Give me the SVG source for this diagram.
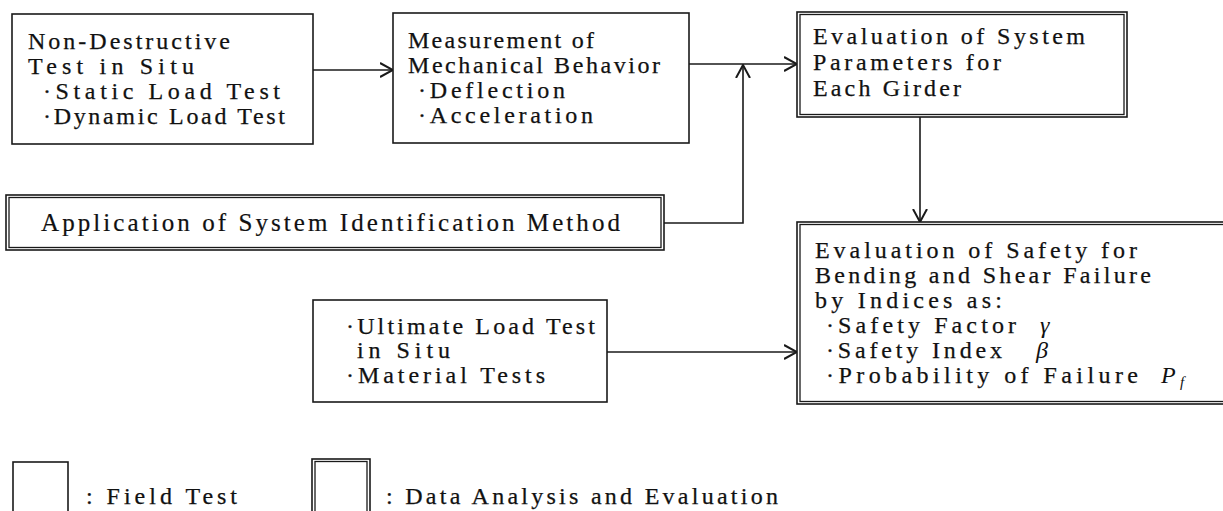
<svg xmlns="http://www.w3.org/2000/svg" width="1223" height="511" viewBox="0 0 1223 511">
<style>
.bx{fill:#fff;stroke:#1a1a1a;stroke-width:1.6}
.in{fill:none;stroke:#1a1a1a;stroke-width:1.3}
.t{font-family:"Liberation Serif",serif;font-size:24px;fill:#111;stroke:#111;stroke-width:0.25}
.c{font-family:"Liberation Serif",serif;font-size:25px;fill:#111;stroke:#111;stroke-width:0.2}
.g{font-family:"Liberation Serif",serif;font-size:24px;font-style:italic;fill:#111}
.s{font-family:"Liberation Serif",serif;font-size:15px;font-style:italic;fill:#111}
.con{fill:none;stroke:#1a1a1a;stroke-width:1.6}
</style>
<defs>
<marker id="ah" viewBox="0 0 14 16" refX="13" refY="8" markerWidth="14" markerHeight="16" markerUnits="userSpaceOnUse" orient="auto">
<path d="M0,1 L13,8 L0,15" fill="none" stroke="#1a1a1a" stroke-width="2"/>
</marker>
</defs>
<rect width="1223" height="511" fill="#fff"/>

<g id="connectors">
<line class="con" x1="313" y1="70" x2="393" y2="70" marker-end="url(#ah)"/>
<line class="con" x1="689" y1="64" x2="797" y2="64" marker-end="url(#ah)"/>
<polyline class="con" points="664,223 743,223 743,65" marker-end="url(#ah)"/>
<line class="con" x1="920" y1="117" x2="920" y2="222" marker-end="url(#ah)"/>
<line class="con" x1="607" y1="352" x2="797" y2="352" marker-end="url(#ah)"/>
</g>

<g id="node-nondestructive">
<rect class="bx" x="12" y="14" width="301" height="130"/>
<text class="t" x="28" y="49" textLength="202" lengthAdjust="spacing">Non-Destructive</text>
<text class="t" x="28" y="74" textLength="166" lengthAdjust="spacing">Test in Situ</text>
<text class="t" x="43" y="99" textLength="237" lengthAdjust="spacing">·Static Load Test</text>
<text class="t" x="43" y="124" textLength="242" lengthAdjust="spacing">·Dynamic Load Test</text>
</g>

<g id="node-measurement">
<rect class="bx" x="393" y="13" width="296" height="130"/>
<text class="t" x="408" y="48" textLength="186" lengthAdjust="spacing">Measurement of</text>
<text class="t" x="408" y="73" textLength="252" lengthAdjust="spacing">Mechanical Behavior</text>
<text class="t" x="418" y="98" textLength="147" lengthAdjust="spacing">·Deflection</text>
<text class="t" x="418" y="123" textLength="175" lengthAdjust="spacing">·Acceleration</text>
</g>

<g id="node-system-params">
<rect class="bx" x="797" y="12" width="330" height="105"/>
<rect class="in" x="800" y="14.5" width="324" height="100"/>
<text class="t" x="813" y="44" textLength="272" lengthAdjust="spacing">Evaluation of System</text>
<text class="t" x="813" y="70" textLength="188" lengthAdjust="spacing">Parameters for</text>
<text class="t" x="813" y="96" textLength="148" lengthAdjust="spacing">Each Girder</text>
</g>

<g id="node-sysid">
<rect class="bx" x="6" y="195" width="658" height="55"/>
<rect class="in" x="9" y="197.5" width="652" height="50"/>
<text class="c" x="41" y="231" textLength="579" lengthAdjust="spacing">Application of System Identification Method</text>
</g>

<g id="node-ultimate">
<rect class="bx" x="313" y="300" width="294" height="102"/>
<text class="t" x="346" y="334" textLength="249" lengthAdjust="spacing">·Ultimate Load Test</text>
<text class="t" x="357" y="358" textLength="93" lengthAdjust="spacing">in Situ</text>
<text class="t" x="346" y="383" textLength="199" lengthAdjust="spacing">·Material Tests</text>
</g>

<g id="node-safety">
<rect class="bx" x="797" y="222" width="440" height="182"/>
<rect class="in" x="800" y="224.5" width="440" height="177"/>
<text class="t" x="815" y="258" textLength="322" lengthAdjust="spacing">Evaluation of Safety for</text>
<text class="t" x="815" y="283" textLength="336" lengthAdjust="spacing">Bending and Shear Failure</text>
<text class="t" x="815" y="308" textLength="187" lengthAdjust="spacing">by Indices as:</text>
<text class="t" x="826" y="333" textLength="190" lengthAdjust="spacing">·Safety Factor</text>
<text class="g" x="1040" y="333">γ</text>
<text class="t" x="826" y="358" textLength="176" lengthAdjust="spacing">·Safety Index</text>
<text class="g" x="1036" y="358">β</text>
<text class="t" x="826" y="383" textLength="312" lengthAdjust="spacing">·Probability of Failure</text>
<text class="g" x="1161" y="383">P</text>
<text class="s" x="1180" y="387">f</text>
</g>

<g id="legend-field">
<rect class="bx" x="13" y="462" width="55" height="70"/>
<text class="t" x="86" y="504" textLength="151" lengthAdjust="spacing">: Field Test</text>
</g>

<g id="legend-analysis">
<rect class="bx" x="312" y="459" width="58" height="70"/>
<rect class="in" x="315" y="461.5" width="52" height="70"/>
<text class="t" x="386" y="504" textLength="392" lengthAdjust="spacing">: Data Analysis and Evaluation</text>
</g>
</svg>
